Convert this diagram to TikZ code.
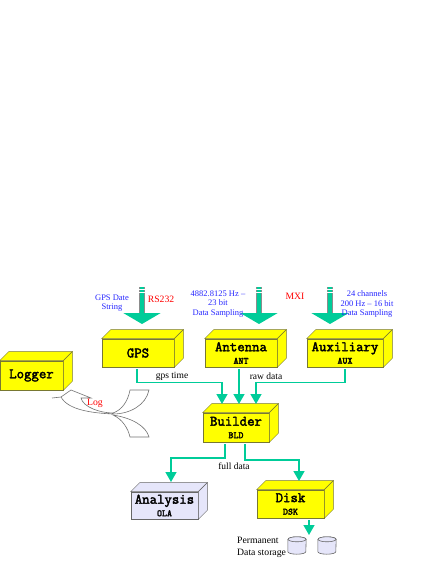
\documentclass[tikz,border=0pt]{standalone}
\usepackage{fontspec}
\setmainfont{Liberation Serif}
\newfontfamily\boxfont[FakeBold=2.5]{Latin Modern Mono}
\usetikzlibrary{arrows.meta,calc}
\definecolor{flowgreen}{RGB}{0,204,153}
\definecolor{boxyellow}{RGB}{255,255,0}
\definecolor{boxline}{RGB}{120,120,50}
\definecolor{lavbox}{RGB}{230,230,250}
\newcommand{\boxname}[2]{{\fontsize{14.4}{13}\selectfont\boxfont #1}\\[0.5pt]{\fontsize{9.5}{9}\selectfont\boxfont #2}}

\begin{document}
\begin{tikzpicture}[
  x=1pt, y=-1pt,
  yellowbox/.style={draw=boxline, line width=0.7pt, fill=boxyellow, align=center, inner sep=0pt, minimum height=28pt},
  lavenderbox/.style={draw=black!60, line width=0.7pt, fill=lavbox, align=center, inner sep=0pt, minimum height=27pt},
  bluetext/.style={text=blue!85!white, align=center, font=\fontsize{8.5}{9.2}\selectfont, inner sep=0pt},
  redtext/.style={text=red, font=\fontsize{9.7}{11}\selectfont, inner sep=0pt},
  flowtext/.style={font=\fontsize{9.5}{12}\selectfont, inner sep=0pt},
  flow/.style={draw=flowgreen, line width=1.5pt, shorten <=2pt, -{Triangle[width=11pt,length=10pt,fill=flowgreen]}},
  bigshaft/.style={draw=black!45, line width=6pt},
  bigarrow/.style={draw=flowgreen, line width=4pt, -{Triangle[width=37pt,length=11pt,fill=flowgreen]}},
  stripe/.style={draw=white, line width=0.8pt},
  logcurve/.style={draw=black!55, fill=white, line width=0.6pt},
  disc/.style={minimum width=18pt, minimum height=17pt, inner sep=0pt},
  discface/.style={draw=black!60, fill=lavbox, line width=0.6pt}
]
\useasboundingbox (0,0) rectangle (436,564);

% front faces
\node[yellowbox, minimum width=72pt] (gps) at (138,353) {{\fontsize{14.4}{13}\selectfont\boxfont GPS}};
\node[yellowbox, minimum width=72pt] (ant) at (241,353) {\boxname{Antenna}{ANT}};
\node[yellowbox, minimum width=76pt] (aux) at (345,353) {\boxname{Auxiliary}{AUX}};
\node[yellowbox, minimum width=63pt, minimum height=29pt] (log) at (31.5,375.5) {{\fontsize{14.4}{13}\selectfont\boxfont Logger}};
\node[yellowbox, minimum width=66pt, minimum height=29pt] (bld) at (236,427.5) {\boxname{Builder}{BLD}};
\node[lavenderbox, minimum width=67pt] (ola) at (164.5,505.5) {\boxname{Analysis}{OLA}};
\node[yellowbox, minimum width=67pt] (dsk) at (290.5,504) {\boxname{Disk}{DSK}};

% top and side faces
\foreach \n/\c/\l in {gps/boxyellow/boxline, ant/boxyellow/boxline, aux/boxyellow/boxline, log/boxyellow/boxline, bld/boxyellow/boxline, ola/lavbox/black!60, dsk/boxyellow/boxline} {
  \draw[draw=\l, fill=\c] (\n.north west) -- ++(9,-9) -- ($(\n.north east)+(9,-9)$) -- (\n.north east) -- cycle;
  \draw[draw=\l, fill=\c] (\n.north east) -- ++(9,-9) -- ($(\n.south east)+(9,-9)$) -- (\n.south east) -- cycle;
}

% incoming signals
\foreach \n/\x in {gps/142, ant/259, aux/330} {
  \coordinate (\n-src) at (\x,287);
  \coordinate (\n-tip) at (\x,324);
  \draw[bigshaft] (\n-src) -- ++(0,26);
  \draw[bigarrow] (\n-src) -- (\n-tip);
  \draw[stripe] ($(\n-src)+(-3,2)$) -- ++(6,0);
  \draw[stripe] ($(\n-src)+(-3,5)$) -- ++(6,0);
}

\node[bluetext] (gps-txt) at (112,303.5) {GPS Date\\String};
\node[redtext]  (rs232)   at (161,299)   {RS232};
\node[bluetext] (ant-txt) at (218,304)   {4882.8125 Hz --\\23 bit\\Data Sampling};
\node[redtext]  (mxi)     at (295,296)   {MXI};
\node[bluetext] (aux-txt) at (367,304)   {24 channels\\200 Hz -- 16 bit\\Data Sampling};

% log band
\draw[logcurve] (113,415) .. controls (132,418) and (146,426) .. (149,437) -- (130,437) .. controls (128,428) and (122,419) .. (113,415) -- cycle;
\draw[logcurve] (52,398) -- (61,397) -- (71,390) -- (91,398) -- (81,398)
  .. controls (83,407) and (100,413) .. (113,413)
  .. controls (122,410) and (128,401) .. (130,390) -- (149,390)
  .. controls (146,405) and (130,414) .. (113,414)
  .. controls (92,413) and (68,410) .. (61,397) -- cycle;
\node[redtext] (log-txt) at (95,403) {Log};

% data flow
\coordinate (bld-in1) at (222,404);
\coordinate (bld-in2) at (239,404);
\coordinate (bld-in3) at (256,404);
\coordinate (bld-outa) at (225,442);
\coordinate (bld-outb) at (245,442);
\draw[flow] (gps.south) ++(-1,0) -- ++(0,15) -| (bld-in1);
\draw[flow] (ant.south -| bld-in2) -- (bld-in2);
\draw[flow] (aux.south) -- ++(0,15) -| (bld-in3);
\draw[flow] (bld-outa) -- ++(0,16) -| (171,482);
\draw[flow] (bld-outb) -- ++(0,18) -| (299,481);
\draw[flow] (309,518) -- (309,535);

\node[flowtext] (gps-time) at (172,376.5) {gps time};
\node[flowtext] (raw-data) at (266,376.5) {raw data};
\node[flowtext] (full-data) at (234,466) {full data};

% storage
\node[flowtext, align=left, anchor=west, font=\fontsize{9.7}{12}\selectfont] (perm) at (237,547) {Permanent\\Data storage};
\node[disc] (disc-a) at (297,545.5) {};
\node[disc] (disc-b) at (327,545.5) {};
\foreach \n in {disc-a, disc-b} {
  \draw[discface] ($(\n.north west)+(0,2.5)$) -- ($(\n.south west)+(0,-2.5)$)
    arc[start angle=180, end angle=360, x radius=9pt, y radius=2.5pt]
    -- ($(\n.north east)+(0,2.5)$) arc[start angle=0, end angle=180, x radius=9pt, y radius=2.5pt] -- cycle;
  \draw[discface] ($(\n.north)+(0,2.5)$) ellipse [x radius=9pt, y radius=2.5pt];
}
\end{tikzpicture}
\end{document}
